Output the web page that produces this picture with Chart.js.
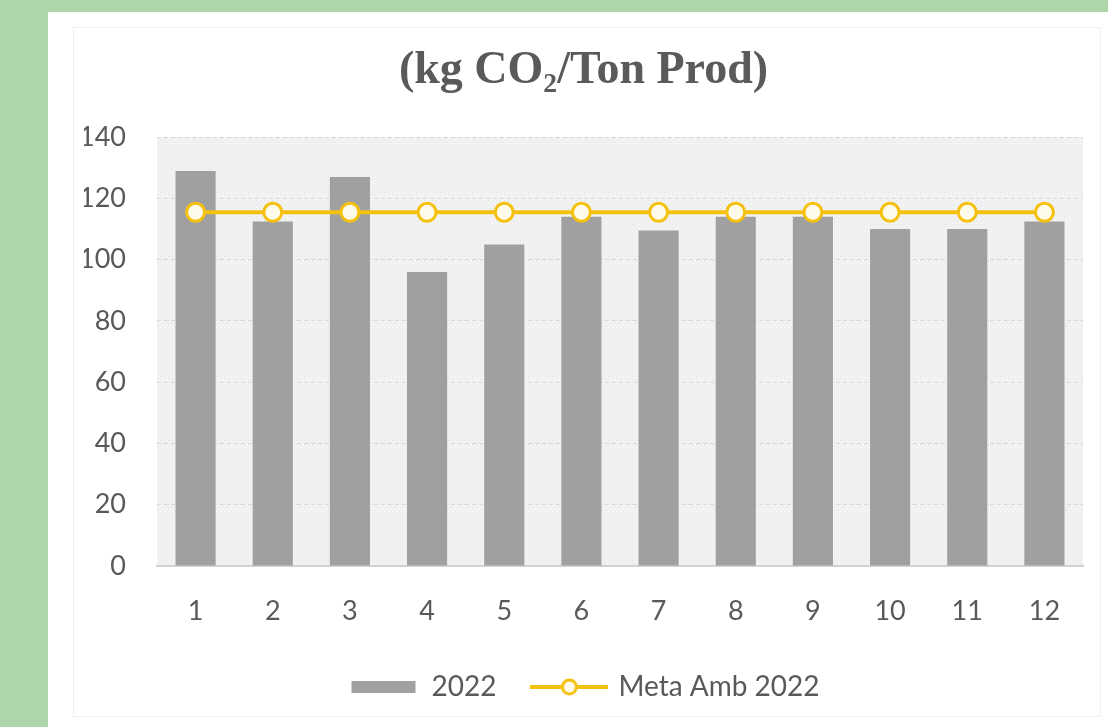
<!DOCTYPE html>
<html>
<head>
<meta charset="utf-8">
<script src="https://cdn.jsdelivr.net/npm/chart.js@4/dist/chart.umd.min.js"></script>
<style>
    html, body { margin: 0; padding: 0; }
    body { width: 1108px; height: 727px; background: #aed6ab; position: relative; overflow: hidden; }
    #panel { position: absolute; left: 48px; top: 12px; width: 1060px; height: 715px; background: #ffffff; }
    #frame { position: absolute; left: 25px; top: 15px; width: 1026px; height: 688px; border: 1px solid #efefef; }
    #co2-chart { position: absolute; left: 0; top: 0; }
</style>
</head>
<body>
<div id="panel">
    <div id="frame"></div>
    <canvas id="co2-chart" width="1060" height="715"></canvas>
</div>
<script>
const months = ["1", "2", "3", "4", "5", "6", "7", "8", "9", "10", "11", "12"];
const emissions2022 = [129, 112.5, 127, 96, 105, 114, 109.5, 114, 114, 110, 110, 112.5];
const metaAmb2022 = [115.5, 115.5, 115.5, 115.5, 115.5, 115.5, 115.5, 115.5, 115.5, 115.5, 115.5, 115.5];
const yTicks = [0, 20, 40, 60, 80, 100, 120, 140];

const textGray = "#595959";
const barGray = "#a0a0a0";
const gold = "#f5c10f";

// small canvases used as legend swatches
function makeBarSwatch() {
    const c = document.createElement("canvas");
    c.width = 70;
    c.height = 14;
    const g = c.getContext("2d");
    g.fillStyle = barGray;
    g.fillRect(4, 1, 64, 12);
    return c;
}

function makeLineSwatch() {
    const c = document.createElement("canvas");
    c.width = 78;
    c.height = 22;
    const g = c.getContext("2d");
    g.strokeStyle = gold;
    g.lineWidth = 4;
    g.beginPath();
    g.moveTo(0, 11);
    g.lineTo(78, 11);
    g.stroke();
    g.beginPath();
    g.arc(39, 11, 7, 0, Math.PI * 2);
    g.fillStyle = "#fffbea";
    g.fill();
    g.lineWidth = 3;
    g.stroke();
    return c;
}

// dotted fill behind the plot area
function makePlotPattern(ctx) {
    const c = document.createElement("canvas");
    c.width = 4;
    c.height = 4;
    const g = c.getContext("2d");
    g.fillStyle = "#f3f3f3";
    g.fillRect(0, 0, 4, 4);
    g.fillStyle = "#e1e1e1";
    g.fillRect(0, 0, 1, 1);
    g.fillRect(2, 2, 1, 1);
    return ctx.createPattern(c, "repeat");
}

const plotBackground = {
    id: "plotBackground",
    beforeDraw(chart) {
        const { ctx, chartArea } = chart;
        ctx.save();
        ctx.fillStyle = makePlotPattern(ctx);
        ctx.fillRect(chartArea.left, chartArea.top, chartArea.right - chartArea.left, chartArea.bottom - chartArea.top);
        ctx.restore();
    }
};

function createChart() {
    const ctx = document.getElementById("co2-chart").getContext("2d");
    const barSwatch = makeBarSwatch();
    const lineSwatch = makeLineSwatch();

    new Chart(ctx, {
        type: "bar",
        data: {
            labels: months,
            datasets: [
                {
                    label: "2022",
                    data: emissions2022,
                    backgroundColor: barGray,
                    barPercentage: 0.52,
                    categoryPercentage: 1,
                    order: 2
                },
                {
                    type: "line",
                    label: "Meta Amb 2022",
                    data: metaAmb2022,
                    borderColor: gold,
                    borderWidth: 4,
                    pointRadius: 9,
                    pointBorderWidth: 3,
                    pointBackgroundColor: "#fffbea",
                    pointBorderColor: gold,
                    tension: 0,
                    order: 1
                }
            ]
        },
        options: {
            responsive: false,
            animation: false,
            layout: { padding: { left: 36, right: 25, top: 0, bottom: 16 } },
            plugins: {
                tooltip: { enabled: false },
                title: {
                    display: true,
                    text: "(kg CO\u2082/Ton Prod)",
                    color: "#5a5a5a",
                    font: { family: "'Liberation Serif', 'DejaVu Serif', serif", size: 46, weight: "bold" },
                    padding: { top: 32, bottom: 38 }
                },
                legend: {
                    position: "bottom",
                    maxHeight: 93,
                    labels: {
                        usePointStyle: true,
                        pointStyleWidth: 70,
                        padding: 38,
                        color: textGray,
                        font: { family: "Lato", size: 28 },
                        generateLabels: () => [
                            { text: "2022", pointStyle: barSwatch, datasetIndex: 0, fontColor: textGray, lineWidth: 0, hidden: false },
                            { text: "Meta Amb 2022", pointStyle: lineSwatch, datasetIndex: 1, fontColor: textGray, lineWidth: 0, hidden: false }
                        ]
                    }
                }
            },
            scales: {
                x: {
                    grid: { display: false, drawTicks: false },
                    border: { display: true, color: "#d2d2d2", width: 2 },
                    ticks: { color: textGray, font: { family: "Lato", size: 27 }, padding: 29 },
                    afterFit(scale) { scale.height = 69; }
                },
                y: {
                    min: 0,
                    max: 140,
                    afterBuildTicks(scale) { scale.ticks = yTicks.map(v => ({ value: v })); },
                    grid: { color: "#d9d9d9", lineWidth: 1, drawTicks: false },
                    border: { display: false, dash: [4, 3] },
                    ticks: { color: textGray, font: { family: "Lato", size: 27 }, padding: 31 },
                    afterFit(scale) { scale.width = 73; }
                }
            }
        },
        plugins: [plotBackground]
    });
}

createChart();
</script>
</body>
</html>
